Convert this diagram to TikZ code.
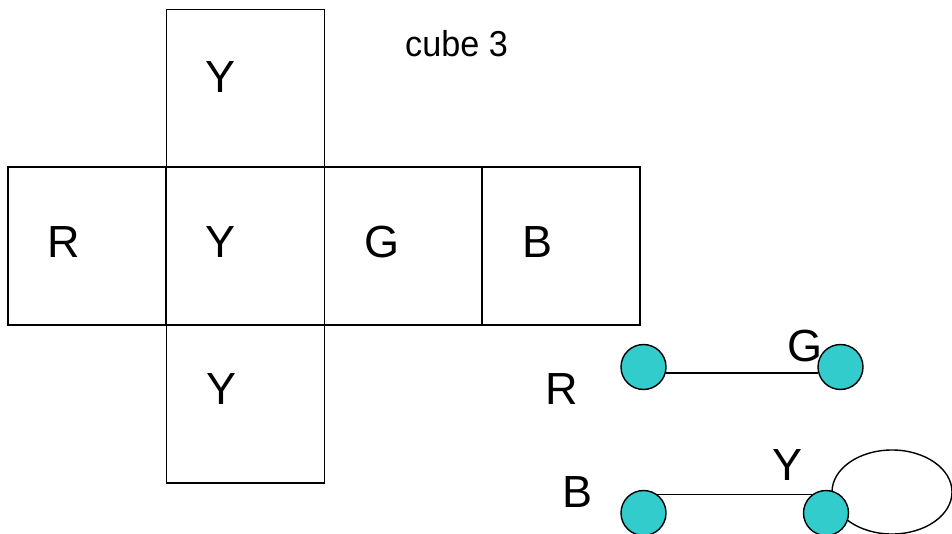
\documentclass[tikz,border=0pt]{standalone}
\usepackage{fontspec}
\setmainfont{Liberation Sans}
\begin{document}
\begin{tikzpicture}[x=1pt,y=-1pt,
  face/.style={draw=black,line width=1.7pt,minimum width=158pt,minimum height=158pt,inner sep=0pt,
    font=\fontsize{45}{50}\selectfont},
  big/.style={inner sep=0pt,font=\fontsize{45}{50}\selectfont},
  vert/.style={circle,draw=black,line width=1.4pt,fill=vcol,minimum size=45pt,inner sep=0pt},
  edge/.style={line width=1.4pt}]
\definecolor{vcol}{HTML}{33CCCC}
\useasboundingbox (0,0) rectangle (952,534);
\clip (0,0) rectangle (952,534);
% cube net
\node[face] (top) at (245.5,88.5) {};
\node[face] (fR) at (87,246) {};
\node[face] (fY) at (245.5,246) {};
\node[face] (fG) at (403.5,246) {};
\node[face] (fB) at (561,246) {};
\node[face] (bot) at (245.5,404) {};
\node[big] (lTop) at (221,77) {Y};
\node[big] (lR) at (64,242) {R};
\node[big] (lY) at (221,242) {Y};
\node[big] (lG) at (382,242) {G};
\node[big] (lB) at (537,242) {B};
\node[big] (lBot) at (222,389) {Y};
\node[inner sep=0pt,font=\fontsize{36}{40}\selectfont,xscale=0.95] (title) at (456.5,44) {cube 3};
% graph
\draw[line width=1.4pt] (892,492) ellipse [x radius=60, y radius=42];
\node[vert] (nR) at (643.5,367) {};
\node[vert] (nG) at (840.5,367) {};
\node[vert] (nB) at (643.5,513) {};
\node[vert] (nY) at (826,513) {};
\draw[edge] (nR.-15) -- (nG.195);
\draw[edge] (nB.53) -- (nY.127);
\node[big] (gR) at (562,389) {R};
\node[big] (gG) at (805,346) {G};
\node[big] (gY) at (787,465) {Y};
\node[big] (gB) at (577,492) {B};
\end{tikzpicture}
\end{document}
